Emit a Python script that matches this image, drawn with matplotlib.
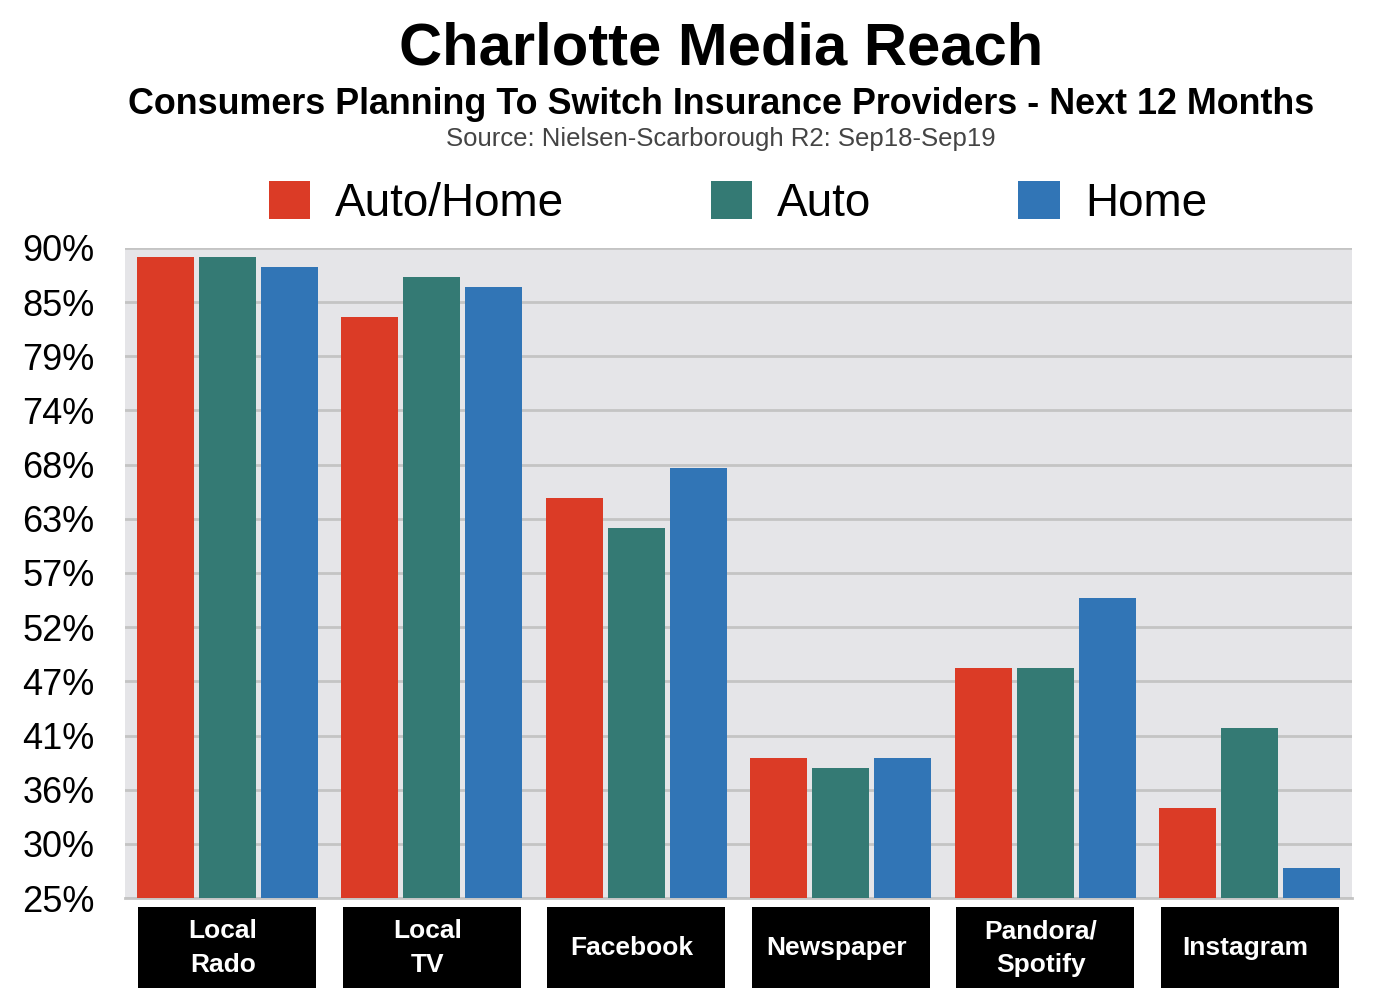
import numpy as np
import matplotlib
matplotlib.use("Agg")
import matplotlib.pyplot as plt
from matplotlib.patches import Rectangle
import matplotlib.transforms as mtransforms

plt.rcParams['font.family'] = ['Liberation Sans', 'DejaVu Sans']

categories = ["Local\nRado", "Local\nTV", "Facebook", "Newspaper", "Pandora/\nSpotify", "Instagram"]
series_names = ["Auto/Home", "Auto", "Home"]
auto_home = [89.1, 83.1, 65.0, 39.0, 48.0, 34.0]
auto = [89.1, 87.1, 62.0, 38.0, 48.0, 42.0]
home = [88.1, 86.1, 68.0, 39.0, 55.0, 28.0]
tick_values = [25, 30.42, 35.83, 41.25, 46.67, 52.08, 57.5, 62.92, 68.33, 73.75, 79.17, 84.58, 90]
tick_labels = ["25%", "30%", "36%", "41%", "47%", "52%", "57%", "63%", "68%", "74%", "79%", "85%", "90%"]
colors = ["#db3b26", "#347a74", "#3175b6"]

fig = plt.figure(figsize=(14, 10.08), dpi=100)
ax = fig.add_axes([0.0893, 0.1091, 0.8764, 0.6449])
ax.set_facecolor("#e5e5e8")

x = np.arange(len(categories))
offs = [-0.303, 0.0, 0.303]
bars = []
for vals, off, col, name in zip([auto_home, auto, home], offs, colors, series_names):
    b = ax.bar(x + off, [v - 25 for v in vals], bottom=25, width=0.28, color=col,
               label=name, zorder=3)
    bars.append(b)

ax.set_xlim(-0.5, len(categories) - 0.5)
ax.set_ylim(25, 90)
ax.set_yticks(tick_values)
ax.set_yticklabels(tick_labels, fontsize=26)
ax.tick_params(axis='y', length=0, pad=22)
ax.set_xticks([])
ax.grid(axis='y', color="#c4c4c4", linewidth=2, zorder=0)
for s in ["left", "right", "top"]:
    ax.spines[s].set_visible(False)
ax.spines["bottom"].set_color("#c4c4c4")
ax.spines["bottom"].set_linewidth(2)

# black category boxes
trans = mtransforms.blended_transform_factory(ax.transData, ax.transAxes)
for i, cat in enumerate(x):
    r = Rectangle((cat - 0.435, -0.139), 0.87, 0.125, transform=trans,
                  facecolor="black", edgecolor="none", clip_on=False)
    ax.add_patch(r)
    ax.text(cat - 0.02, -0.0765, categories[i], transform=trans, ha="center", va="center",
            color="white", fontsize=19, fontweight="bold", linespacing=1.5)

fig.text(0.515, 0.951, "Charlotte Media Reach", ha="center", va="center",
         fontsize=43, fontweight="bold")
fig.text(0.515, 0.896, "Consumers Planning To Switch Insurance Providers - Next 12 Months",
         ha="center", va="center", fontsize=25.8, fontweight="bold")
fig.text(0.515, 0.862, "Source: Nielsen-Scarborough R2: Sep18-Sep19", ha="center",
         va="center", fontsize=18.5, color="#444444")

fig.legend(handles=bars, labels=series_names, loc="center", bbox_to_anchor=(0.527, 0.798),
           ncol=3, frameon=False, fontsize=33, handlelength=0.9, handleheight=0.9,
           handletextpad=0.55, columnspacing=3.2)

fig.savefig("out.png", dpi=100)
